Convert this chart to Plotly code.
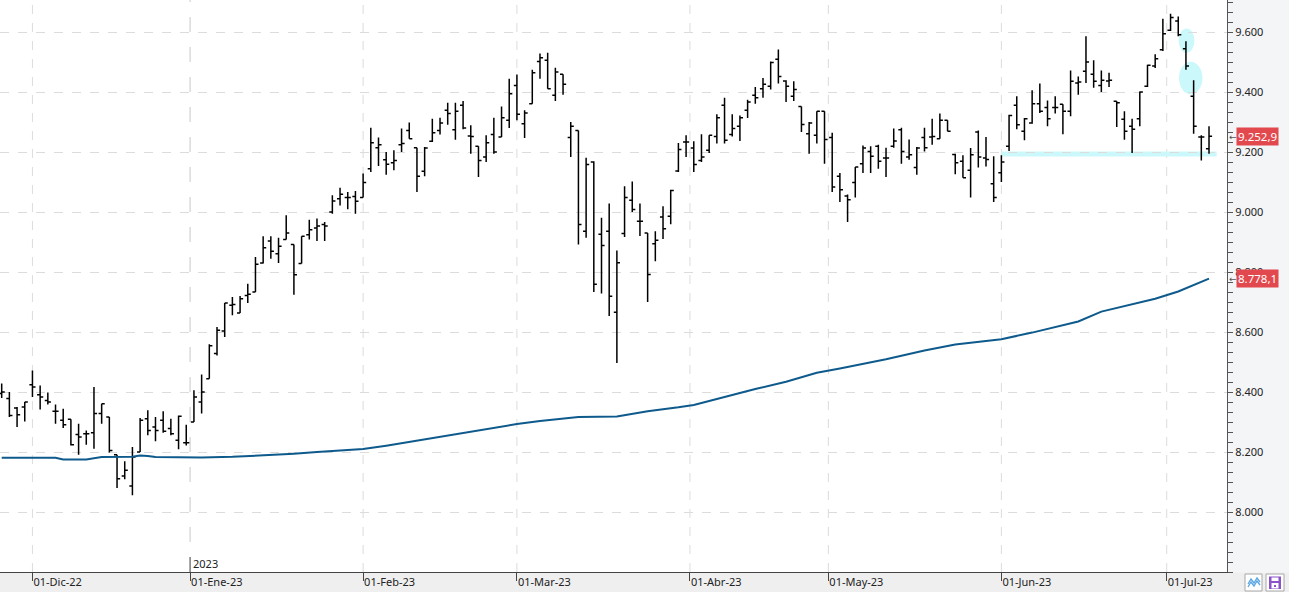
import plotly.graph_objects as go
import pandas as pd

# ---------------- data ----------------
holidays = ["2022-12-26", "2023-04-07", "2023-04-10", "2023-05-01"]
trading_days = pd.bdate_range("2022-11-25", "2023-07-10", freq="C", holidays=holidays)
dates = [d.strftime("%Y-%m-%d") for d in trading_days]

open_ = [8395, 8378, 8347, 8350, 8424, 8391, 8372, 8336, 8306, 8309,
         8258, 8261, 8264, 8328, 8317, 8191, 8120, 8087, 8200, 8311,
         8283, 8306, 8278, 8239, 8231, 8300, 8367, 8444, 8528, 8603,
         8689, 8663, 8722, 8733, 8830, 8903, 8861, 8908, 8892, 8828,
         8924, 8947, 8958, 9000, 9044, 9048, 9052, 9048, 9144, 9214,
         9174, 9164, 9224, 9272, 9214, 9136, 9236, 9272, 9339, 9274,
         9356, 9253, 9219, 9183, 9258, 9250, 9306, 9422, 9294, 9361,
         9502, 9506, 9389, 9459, 9248, 9272, 8936, 9167, 8926, 8936,
         8666, 8928, 9039, 8969, 8930, 8894, 8983, 8986, 9137, 9233,
         9213, 9172, 9206, 9252, 9356, 9258, 9286, 9339, 9389, 9411,
         9419, 9509, 9437, 9386, 9352, 9261, 9256, 9336, 9248, 9119,
         9053, 9098, 9161, 9202, 9219, 9180, 9219, 9274, 9183, 9148,
         9248, 9250, 9244, 9306, 9192, 9169, 9139, 9267, 9180, 9094,
         9131, 9219, 9356, 9269, 9297, 9361, 9348, 9348, 9359, 9336,
         9430, 9469, 9459, 9422, 9437, 9369, 9309, 9286, 9311, 9419,
         9487, 9541, 9606, 9637, 9544, 9386, 9250, 9211]
high = [8428, 8400, 8350, 8367, 8472, 8422, 8398, 8358, 8344, 8309,
        8294, 8272, 8417, 8361, 8317, 8191, 8169, 8217, 8313, 8339,
        8317, 8336, 8311, 8322, 8291, 8406, 8458, 8559, 8617, 8697,
        8717, 8720, 8761, 8850, 8919, 8919, 8914, 8989, 8892, 8919,
        8974, 8978, 8967, 9056, 9081, 9067, 9070, 9128, 9281, 9248,
        9200, 9206, 9278, 9298, 9214, 9217, 9311, 9314, 9364, 9364,
        9370, 9289, 9219, 9256, 9314, 9352, 9444, 9458, 9339, 9474,
        9528, 9531, 9481, 9459, 9300, 9272, 9181, 9169, 8981, 9028,
        8872, 9086, 9102, 9028, 8930, 8936, 9019, 9074, 9230, 9256,
        9236, 9259, 9256, 9326, 9381, 9326, 9322, 9374, 9417, 9447,
        9502, 9542, 9439, 9436, 9352, 9300, 9336, 9336, 9264, 9130,
        9058, 9150, 9222, 9219, 9224, 9214, 9278, 9281, 9242, 9217,
        9281, 9311, 9328, 9306, 9194, 9189, 9213, 9272, 9250, 9186,
        9189, 9324, 9386, 9313, 9406, 9428, 9372, 9386, 9359, 9472,
        9452, 9586, 9506, 9472, 9464, 9369, 9336, 9311, 9402, 9491,
        9526, 9644, 9661, 9652, 9569, 9439, 9256, 9286]
low = [8380, 8317, 8283, 8302, 8383, 8342, 8358, 8294, 8280, 8222,
       8191, 8224, 8211, 8294, 8198, 8080, 8109, 8056, 8200, 8256,
       8236, 8264, 8256, 8209, 8222, 8300, 8328, 8444, 8522, 8583,
       8656, 8663, 8697, 8733, 8828, 8844, 8830, 8908, 8724, 8828,
       8908, 8903, 8903, 8994, 9022, 9009, 8994, 9048, 9133, 9153,
       9124, 9139, 9200, 9244, 9067, 9119, 9233, 9258, 9291, 9241,
       9276, 9194, 9117, 9167, 9194, 9250, 9280, 9306, 9247, 9361,
       9444, 9411, 9370, 9391, 9183, 8892, 8914, 8733, 8728, 8653,
       8497, 8917, 9000, 8920, 8700, 8836, 8910, 8959, 9133, 9183,
       9133, 9167, 9197, 9228, 9228, 9252, 9237, 9313, 9361, 9381,
       9408, 9428, 9367, 9370, 9267, 9194, 9228, 9161, 9067, 9033,
       8967, 9048, 9130, 9130, 9144, 9117, 9214, 9161, 9174, 9124,
       9202, 9224, 9244, 9269, 9126, 9114, 9048, 9148, 9152, 9033,
       9100, 9203, 9276, 9239, 9294, 9330, 9286, 9328, 9259, 9319,
       9391, 9430, 9414, 9400, 9417, 9283, 9241, 9197, 9286, 9417,
       9480, 9537, 9603, 9586, 9474, 9261, 9172, 9194]
close = [8400, 8322, 8324, 8367, 8417, 8383, 8367, 8336, 8291, 8224,
         8250, 8261, 8328, 8361, 8205, 8111, 8139, 8183, 8306, 8272,
         8272, 8269, 8261, 8319, 8231, 8383, 8400, 8554, 8606, 8697,
         8692, 8711, 8726, 8826, 8881, 8869, 8886, 8930, 8791, 8919,
         8941, 8953, 8953, 9037, 9059, 9048, 9036, 9098, 9231, 9224,
         9159, 9172, 9228, 9244, 9119, 9213, 9264, 9297, 9328, 9336,
         9280, 9252, 9172, 9231, 9200, 9314, 9394, 9326, 9330, 9464,
         9514, 9411, 9467, 9426, 9286, 8958, 9158, 8759, 8888, 8719,
         8831, 9048, 9008, 8969, 8792, 8906, 8944, 9072, 9208, 9233,
         9158, 9183, 9256, 9314, 9239, 9278, 9314, 9367, 9381, 9426,
         9498, 9452, 9419, 9408, 9292, 9297, 9336, 9242, 9083, 9074,
         9041, 9150, 9213, 9186, 9169, 9180, 9237, 9202, 9191, 9213,
         9214, 9252, 9306, 9269, 9164, 9114, 9191, 9183, 9175, 9048,
         9167, 9322, 9291, 9311, 9361, 9336, 9311, 9348, 9336, 9436,
         9433, 9500, 9436, 9439, 9439, 9364, 9269, 9276, 9400, 9489,
         9511, 9594, 9648, 9591, 9487, 9286, 9250, 9252.9]

# moving average read at selected bars (bar number, value)
ma_bar = [0, 7, 8, 11, 13, 17, 18, 19, 20, 26, 30, 34, 38, 41, 47, 50, 54, 57,
          60, 63, 67, 70, 75, 80, 84, 88, 90, 95, 98, 102, 106, 109, 115, 120,
          124, 130, 134, 140, 143, 150, 153, 157]
ma_val = [8181, 8181, 8175, 8175, 8183, 8184, 8188, 8187, 8183, 8182, 8184,
          8188, 8194, 8200, 8210, 8221, 8238, 8250, 8265, 8278, 8293, 8303,
          8317, 8318, 8336, 8349, 8357, 8390, 8410, 8434, 8464, 8478, 8509,
          8538, 8558, 8576, 8598, 8635, 8668, 8711, 8735, 8778.1]

month_starts = ["2022-12-01", "2023-01-01", "2023-02-01", "2023-03-01",
                "2023-04-01", "2023-05-01", "2023-06-01", "2023-07-01"]
month_labels = ["01-Dic-22", "01-Ene-23", "01-Feb-23", "01-Mar-23",
                "01-Abr-23", "01-May-23", "01-Jun-23", "01-Jul-23"]
y_ticks = [8000, 8200, 8400, 8600, 8800, 9000, 9200, 9400, 9600]

support_level = 9193
support_from = "2023-06-01"
gap_bar = "2023-07-05"
last_price = close[-1]
last_ma = ma_val[-1]

assert len(dates) == len(open_) == len(high) == len(low) == len(close)

# ---------------- geometry helpers ----------------
W, H = 1289, 592
ML, MR, MT, MB = 0, 62, 0, 20
PW, PH = W - ML - MR, H - MT - MB


def px(x):
    return (x - ML) / PW


def py(y):
    return (H - MB - y) / PH


def tick_pos(day):
    for i, d in enumerate(dates):
        if d >= day:
            return i if d == day else i - 0.5
    return len(dates) - 1


tick_x = [tick_pos(m) for m in month_starts]
ma_x = [dates[i] for i in ma_bar]

FONT = "Noto Sans, Open Sans, DejaVu Sans, sans-serif"

fig = go.Figure()

fig.add_trace(go.Ohlc(
    x=dates, open=open_, high=high, low=low, close=close,
    increasing=dict(line=dict(color="#000000", width=1.5)),
    decreasing=dict(line=dict(color="#000000", width=1.5)),
    tickwidth=0.4, showlegend=False, hoverinfo="skip",
))

fig.add_trace(go.Scatter(
    x=ma_x, y=ma_val, mode="lines",
    line=dict(color="#0e5a8c", width=2),
    showlegend=False, hoverinfo="skip",
))

shapes = []
# vertical month gridlines
for lab, xv in zip(month_labels, tick_x):
    is_year = lab.startswith("01-Ene")
    shapes.append(dict(type="line", xref="x", yref="paper", x0=xv, x1=xv, y0=0, y1=1,
                       line=dict(color="#c9c9c9" if is_year else "#dcdcdc", width=1,
                                 dash="longdash" if is_year else "dash"),
                       layer="below"))
    if is_year:
        shapes.append(dict(type="line", xref="x", yref="paper", x0=xv, x1=xv,
                           y0=0, y1=py(557), line=dict(color="#555555", width=1)))

# support line
i_sup = dates.index(support_from)
shapes.append(dict(type="line", xref="x", yref="y", x0=i_sup, x1=len(dates) + 0.0,
                   y0=support_level, y1=support_level,
                   line=dict(color="#cbf8fa", width=5), layer="below"))
# gap highlight ellipses
ig = dates.index(gap_bar)
shapes.append(dict(type="circle", xref="x", yref="y", x0=ig - 0.95, x1=ig + 1.1,
                   y0=9531, y1=9612, fillcolor="#cbf8fa", line=dict(width=0), layer="below"))
shapes.append(dict(type="circle", xref="x", yref="y", x0=ig - 0.9, x1=ig + 2.15,
                   y0=9392, y1=9501, fillcolor="#cbf8fa", line=dict(width=0), layer="below"))

# bottom band
shapes.append(dict(type="rect", xref="paper", yref="paper", x0=px(0), x1=px(W),
                   y0=py(H), y1=py(572.5), fillcolor="#efefef", line=dict(width=0), layer="below"))

# bottom-right buttons
for x0, x1 in [(1245, 1262), (1266, 1284)]:
    shapes.append(dict(type="rect", xref="paper", yref="paper", x0=px(x0), x1=px(x1),
                       y0=py(591), y1=py(574), fillcolor="#ffffff",
                       line=dict(color="#a8a8a8", width=1)))
for dy in (0, 3):
    pts = [(1248, 584 + dy), (1251, 579 + dy), (1254, 583 + dy), (1257, 578 + dy), (1260, 582 + dy)]
    path = "M " + " L ".join(f"{px(a)} {py(b)}" for a, b in pts)
    shapes.append(dict(type="path", xref="paper", yref="paper", path=path,
                       line=dict(color="#59a6e3", width=1.3)))
shapes.append(dict(type="rect", xref="paper", yref="paper", x0=px(1269), x1=px(1281),
                   y0=py(589), y1=py(576.5), fillcolor="#8c52c8", line=dict(width=0)))
shapes.append(dict(type="rect", xref="paper", yref="paper", x0=px(1271.5), x1=px(1278.5),
                   y0=py(581), y1=py(577.5), fillcolor="#ffffff", line=dict(width=0)))
shapes.append(dict(type="rect", xref="paper", yref="paper", x0=px(1271.5), x1=px(1278.5),
                   y0=py(588.5), y1=py(583), fillcolor="#ffffff", line=dict(width=0)))
shapes.append(dict(type="rect", xref="paper", yref="paper", x0=px(1274), x1=px(1276),
                   y0=py(587), y1=py(585), fillcolor="#8c52c8", line=dict(width=0)))

annotations = [
    dict(x=tick_x[month_labels.index("01-Ene-23")], xref="x", xanchor="left", xshift=1,
         y=py(563.5), yref="paper", yanchor="middle", text="2023", showarrow=False,
         font=dict(family=FONT, size=11, color="#222222")),
]
for val in (last_price, last_ma):
    txt = f"{val:,.1f}".replace(",", "X").replace(".", ",").replace("X", ".")
    annotations.append(dict(x=1, xref="paper", xanchor="left", xshift=9, y=val, yref="y",
                            yanchor="middle", text=txt, showarrow=False,
                            bgcolor="#e2494e", borderpad=1,
                            font=dict(family=FONT, size=11.5, color="#ffffff")))
    annotations.append(dict(x=1, xref="paper", xanchor="left", xshift=0, y=val, yref="y",
                            yanchor="middle", text="←", showarrow=False,
                            font=dict(family=FONT, size=9, color="#555555")))

fig.update_layout(
    width=W, height=H, autosize=False,
    margin=dict(l=ML, r=MR, t=MT, b=MB, pad=0),
    paper_bgcolor="#f4f5f7", plot_bgcolor="#ffffff",
    separators=",.",
    font=dict(family=FONT, size=11, color="#222222"),
    shapes=shapes, annotations=annotations,
    showlegend=False,
    xaxis=dict(
        type="category", categoryorder="array", categoryarray=dates,
        range=[-0.22, 159.34], rangeslider=dict(visible=False),
        tickmode="array", tickvals=tick_x, ticktext=month_labels,
        ticks="outside", ticklen=8, tickcolor="#444444", tickwidth=1,
        ticklabelposition="outside right",
        tickfont=dict(family=FONT, size=11, color="#222222"),
        showgrid=False, zeroline=False,
        showline=True, linecolor="#444444", linewidth=1,
        fixedrange=True,
    ),
    yaxis=dict(
        side="right", range=[7800, 9706.7],
        tickmode="array", tickvals=y_ticks, tickformat=",.0f",
        ticks="outside", ticklen=5, tickcolor="#555555",
        tickfont=dict(family=FONT, size=11, color="#222222"),
        showgrid=True, gridcolor="#dcdcdc", griddash="dash", gridwidth=1,
        zeroline=False, showline=True, linecolor="#555555", linewidth=1,
        minor=dict(tickmode="linear", tick0=7800, dtick=200 / 6, ticks="outside",
                   ticklen=5, tickcolor="#555555", showgrid=False),
        fixedrange=True,
    ),
)

fig.write_html("out.html")
